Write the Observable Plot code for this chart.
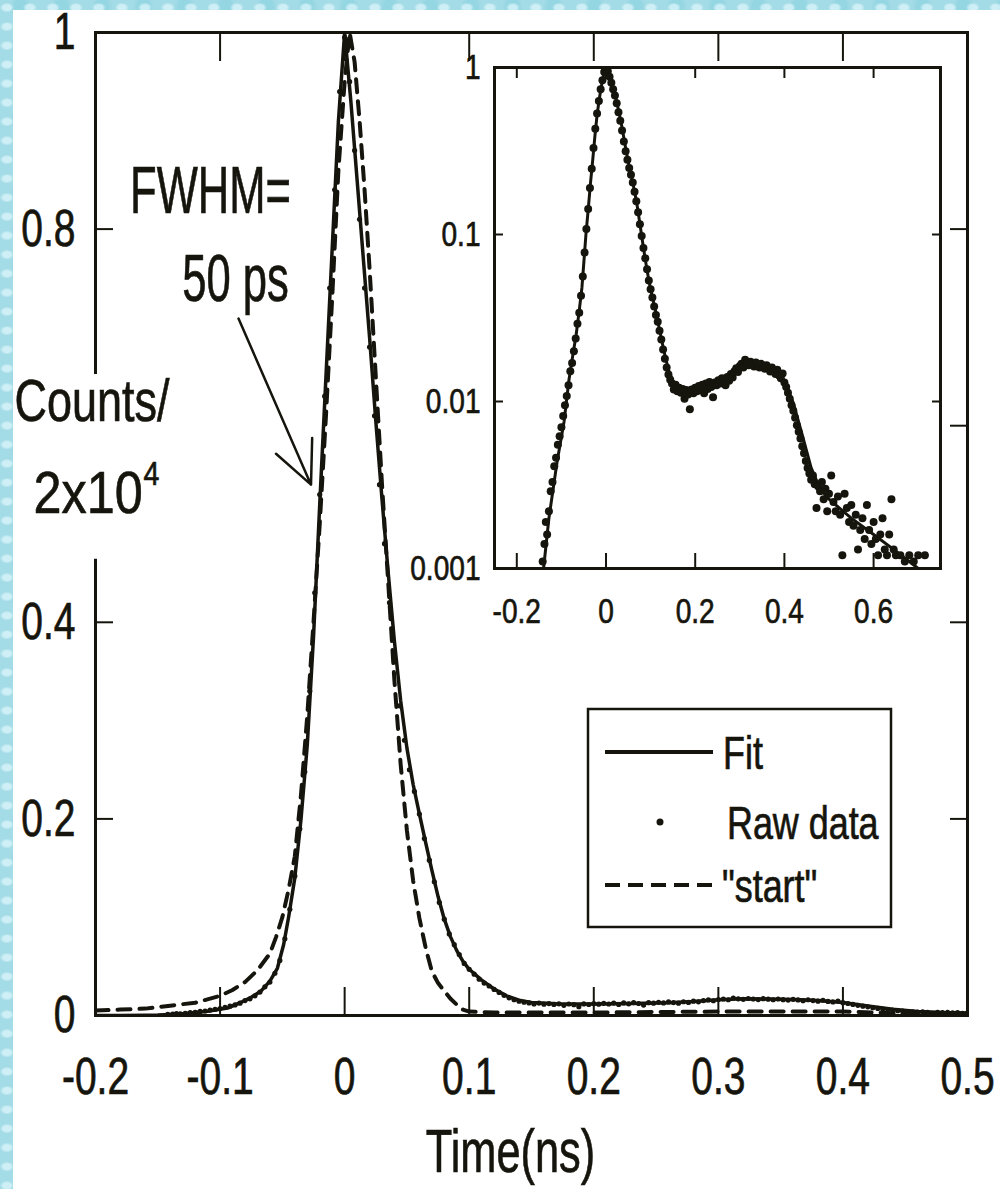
<!DOCTYPE html>
<html><head><meta charset="utf-8">
<script src="https://cdn.jsdelivr.net/npm/d3@7"></script>
<script src="https://cdn.jsdelivr.net/npm/@observablehq/plot@0.6"></script>
<style>
html,body{margin:0;padding:0;}
body{width:1000px;height:1189px;position:relative;overflow:hidden;
 background-color:#a3dbe6;
 background-image:
  radial-gradient(ellipse at 30% 40%, rgba(225,248,252,0.7) 0 4px, transparent 7px),
  radial-gradient(ellipse at 70% 70%, rgba(70,170,195,0.45) 0 5px, transparent 8px),
  radial-gradient(ellipse at 50% 20%, rgba(140,210,225,0.6) 0 6px, transparent 10px);
 background-size:23px 19px, 31px 27px, 41px 37px;}
#panel{position:absolute;left:13px;top:10px;width:987px;height:1179px;background:#fff;}
#main{position:absolute;left:0;top:0;}
#inset{position:absolute;left:400px;top:40px;}
#legend{position:absolute;left:587px;top:708px;}
svg text{stroke:#16150d;stroke-width:0.7px;}
</style></head><body>
<div id="panel"></div>
<div id="main"></div>
<div id="inset"></div>
<div id="legend"></div>
<script>
// ---------- data ----------
const fitT = [-0.20,-0.18,-0.16,-0.15,-0.14,-0.128,-0.11,-0.094,-0.083,-0.075,-0.067,-0.060,-0.054,-0.049,-0.045,-0.040,-0.035,-0.030,-0.025,-0.020,-0.015,-0.010,-0.005,0.000,0.005,0.010,0.015,0.020,0.025,0.030,0.035,0.040,0.045,0.050,0.055,0.060,0.065,0.070,0.075,0.080,0.085,0.090,0.095,0.100,0.110,0.120,0.130,0.140,0.150,0.170,0.200,0.230,0.260,0.280,0.300,0.320,0.340,0.360,0.380,0.400,0.420,0.440,0.460,0.480,0.500,0.550,0.600,0.650,0.700,0.750];
const fitV = [0.00002,0.00006,0.0002,0.0004,0.0010,0.0020,0.0043,0.0076,0.0135,0.0185,0.025,0.035,0.048,0.072,0.100,0.140,0.200,0.275,0.385,0.520,0.650,0.780,0.910,1.000,0.930,0.850,0.770,0.690,0.605,0.525,0.450,0.380,0.320,0.272,0.235,0.205,0.176,0.148,0.121,0.098,0.080,0.066,0.055,0.047,0.036,0.027,0.020,0.0155,0.0132,0.0120,0.0118,0.0122,0.0130,0.0142,0.0160,0.0170,0.0168,0.0162,0.0152,0.0133,0.0098,0.0063,0.0040,0.0030,0.0026,0.0020,0.00160,0.00127,0.00100,0.00079];

const startT = [-0.200,-0.180,-0.160,-0.140,-0.120,-0.100,-0.090,-0.080,-0.070,-0.060,-0.055,-0.050,-0.045,-0.040,-0.035,-0.030,-0.025,-0.020,-0.015,-0.010,-0.005,0.000,0.004,0.008,0.012,0.016,0.020,0.025,0.030,0.035,0.040,0.045,0.050,0.055,0.060,0.065,0.070,0.075,0.080,0.085,0.090,0.095,0.100,0.120,0.200,0.300,0.400,0.450,0.500];
const startV = [0.005,0.006,0.007,0.010,0.013,0.020,0.026,0.034,0.046,0.063,0.080,0.100,0.128,0.162,0.225,0.305,0.400,0.500,0.610,0.730,0.860,0.950,1.000,0.970,0.910,0.840,0.760,0.650,0.540,0.440,0.340,0.255,0.188,0.137,0.099,0.069,0.045,0.033,0.025,0.017,0.011,0.006,0.004,0.003,0.003,0.004,0.004,0.002,0.001];

const rawT = [-0.142,-0.138,-0.135,-0.132,-0.128,-0.124,-0.120,-0.116,-0.112,-0.108,-0.104,-0.100,-0.096,-0.092,-0.088,-0.084,-0.080,-0.076,-0.072,-0.068,-0.064,-0.060,-0.056,-0.052,-0.048,-0.044,-0.040,-0.036,-0.032,-0.028,-0.024,-0.020,-0.016,-0.012,-0.008,-0.004,0.000,0.004,0.008,0.012,0.016,0.020,0.024,0.028,0.032,0.036,0.040,0.044,0.048,0.052,0.056,0.060,0.064,0.068,0.072,0.076,0.080,0.084,0.088,0.092,0.096,0.100,0.104,0.108,0.112,0.116,0.120,0.124,0.128,0.132,0.136,0.140,0.144,0.148,0.152,0.156,0.160,0.164,0.168,0.172,0.176,0.180,0.184,0.188,0.192,0.196,0.200,0.204,0.208,0.212,0.216,0.220,0.224,0.228,0.232,0.236,0.240,0.244,0.248,0.252,0.256,0.260,0.264,0.268,0.272,0.276,0.280,0.284,0.288,0.292,0.296,0.300,0.304,0.308,0.312,0.316,0.320,0.324,0.328,0.332,0.336,0.340,0.344,0.348,0.352,0.356,0.360,0.364,0.368,0.372,0.376,0.380,0.384,0.388,0.392,0.396,0.400,0.404,0.408,0.412,0.416,0.420,0.424,0.428,0.432,0.436,0.440,0.444,0.448,0.452,0.456,0.460,0.464,0.468,0.472,0.476,0.480,0.484,0.488,0.492,0.496,0.500,0.505,0.510,0.515,0.520,0.525,0.530,0.535,0.540,0.545,0.550,0.555,0.560,0.565,0.570,0.575,0.580,0.585,0.590,0.595,0.600,0.605,0.610,0.615,0.620,0.625,0.630,0.635,0.640,0.645,0.650,0.660,0.670,0.680,0.690,0.700,0.715];
const rawV = [0.0011,0.0014,0.0019,0.0016,0.0022,0.0029,0.0033,0.0041,0.0046,0.0055,0.0062,0.0070,0.0082,0.0095,0.0108,0.0125,0.0152,0.0170,0.0200,0.0238,0.0292,0.0340,0.0430,0.0560,0.0780,0.1080,0.1420,0.1900,0.2480,0.3300,0.4300,0.5300,0.6300,0.7400,0.8400,0.9400,0.9950,0.9500,0.8800,0.8100,0.7400,0.6800,0.6100,0.5400,0.4800,0.4200,0.3600,0.3150,0.2800,0.2500,0.2280,0.2050,0.1800,0.1580,0.1360,0.1150,0.0980,0.0830,0.0720,0.0620,0.0530,0.0470,0.0420,0.0370,0.0330,0.0300,0.0265,0.0235,0.0205,0.0180,0.0160,0.0145,0.0135,0.0128,0.0118,0.0126,0.0115,0.0121,0.0113,0.0119,0.0104,0.0117,0.0110,0.0090,0.0118,0.0112,0.0121,0.0115,0.0124,0.0117,0.0126,0.0112,0.0128,0.0119,0.0131,0.0122,0.0106,0.0130,0.0125,0.0134,0.0128,0.0138,0.0131,0.0125,0.0140,0.0133,0.0146,0.0139,0.0152,0.0158,0.0150,0.0163,0.0168,0.0160,0.0178,0.0170,0.0165,0.0173,0.0168,0.0162,0.0171,0.0166,0.0160,0.0168,0.0161,0.0157,0.0165,0.0158,0.0151,0.0160,0.0152,0.0146,0.0155,0.0143,0.0138,0.0147,0.0130,0.0122,0.0113,0.0104,0.0095,0.0088,0.0080,0.0072,0.0066,0.0060,0.0054,0.0049,0.0044,0.0040,0.0037,0.0034,0.0036,0.0032,0.0023,0.0031,0.0029,0.0033,0.0026,0.0030,0.0022,0.0028,0.0036,0.0025,0.0022,0.0027,0.0021,0.0012,0.0028,0.0023,0.0019,0.0024,0.0018,0.0021,0.0013,0.0017,0.0020,0.0015,0.0024,0.0017,0.0014,0.0019,0.0015,0.0012,0.0016,0.0020,0.0013,0.0012,0.0016,0.0026,0.0013,0.0012,0.0012,0.0011,0.0012,0.0011,0.0012,0.0012];

const mainXTickLabels = [-0.2,-0.1,0,0.1,0.2,0.3,0.4,0.5];
const mainXTicks = [-0.1,0,0.1,0.2,0.3,0.4];
const mainYTickLabels = [0,0.2,0.4,0.8,1];
const mainYTicksLeft = [0.2,0.4,0.8];
const mainYTicksRight = [0.2,0.4,0.6,0.8];
const insetXTicks = [-0.2,0,0.2,0.4,0.6];
const insetYTickLabels = [0.001,0.01,0.1,1];
const insetYTicks = [0.01,0.1];
const legendLabels = ["Fit","Raw data","\"start\""];
const yTitle = ["Counts/","2x10","4"];
const xTitle = "Time(ns)";
const fwhmText = ["FWHM=","50 ps"];
const arrowPts = [{x1:-0.0852, y1:0.709, x2:-0.027, y2:0.54}];

// ---------- build ----------
const ink = "#16150d";
const font = "'Liberation Sans', Arial, Helvetica, sans-serif";
const fit = fitT.map((t,i)=>({t, v:fitV[i]}));
const start = startT.map((t,i)=>({t, v:startV[i]}));
const raw = rawT.map((t,i)=>({t, v:rawV[i]}));

// horizontal condensing of every text (the source figure is narrow-set)
const squeezeBy = {"FWHM=":0.66,"50 ps":0.66,"Counts/":0.75,"2x10":0.84,"4":0.84,"Time(ns)":0.70};
function squeezeAll(svg, dflt){
  svg.querySelectorAll("text").forEach(t=>{
    const s = squeezeBy[t.textContent] ?? dflt;
    const tr = t.getAttribute("transform") || "";
    const x = +(t.getAttribute("x") || 0);
    t.setAttribute("transform", `${tr} translate(${x},0) scale(${s},1) translate(${-x},0)`);
  });
}

const frameSegs = [
  {x1:-0.2,x2:0.5,y1:1,y2:1},
  {x1:-0.2,x2:0.5,y1:0,y2:0},
  {x1:0.5,x2:0.5,y1:0,y2:1},
  {x1:-0.2,x2:-0.2,y1:0,y2:0.463},
  {x1:-0.2,x2:-0.2,y1:0.654,y2:1}
];

const main = Plot.plot({
  width:1000, height:1189,
  marginLeft:95, marginRight:33, marginTop:32, marginBottom:174,
  x:{domain:[-0.2,0.5], axis:null},
  y:{domain:[0,1], axis:null},
  style:{background:"transparent", color:ink, fontFamily:font, overflow:"visible"},
  marks:[
    Plot.line(start,{x:"t",y:"v",stroke:ink,strokeWidth:4,strokeDasharray:"13,9",clip:true}),
    Plot.line(fit,{x:"t",y:"v",stroke:ink,strokeWidth:3.5,clip:true}),
    Plot.dot(raw.filter(d=>d.t<=0.5),{x:"t",y:"v",r:2.6,fill:ink,stroke:null,clip:true}),
    Plot.link(frameSegs,{x1:"x1",y1:"y1",x2:"x2",y2:"y2",stroke:ink,strokeWidth:3,strokeLinecap:"square"}),
    Plot.axisX(mainXTicks,{anchor:"bottom",tickSize:28,dy:-28,fill:"none",label:null,stroke:ink,strokeWidth:2}),
    Plot.axisX(mainXTicks,{anchor:"top",tickSize:28,dy:28,fill:"none",label:null,stroke:ink,strokeWidth:2}),
    Plot.axisY(mainYTicksLeft,{anchor:"left",tickSize:18,dx:18,fill:"none",label:null,stroke:ink,strokeWidth:2}),
    Plot.axisY(mainYTicksRight,{anchor:"right",tickSize:18,dx:-18,fill:"none",label:null,stroke:ink,strokeWidth:2}),
    Plot.axisX(mainXTickLabels,{anchor:"bottom",tickSize:0,tickPadding:42,fontSize:52,label:null,tickFormat:d=>String(d)}),
    Plot.axisY(mainYTickLabels,{anchor:"left",tickSize:0,tickPadding:20,fontSize:52,label:null,tickFormat:d=>String(d)}),
    Plot.text([xTitle],{frameAnchor:"bottom",dx:-21,dy:137,fontSize:62,textAnchor:"middle",lineAnchor:"middle",fill:ink}),
    Plot.text([yTitle[0]],{frameAnchor:"left",dx:-81,dy:-122,fontSize:60,textAnchor:"start",lineAnchor:"middle",fill:ink}),
    Plot.text([yTitle[1]],{frameAnchor:"left",dx:-62,dy:-30,fontSize:60,textAnchor:"start",lineAnchor:"middle",fill:ink}),
    Plot.text([yTitle[2]],{frameAnchor:"left",dx:48,dy:-50,fontSize:34,textAnchor:"start",lineAnchor:"middle",fill:ink}),
    Plot.text([fwhmText[0]],{frameAnchor:"top-left",dx:115,dy:159,fontSize:66,textAnchor:"middle",lineAnchor:"middle",fill:ink}),
    Plot.text([fwhmText[1]],{frameAnchor:"top-left",dx:140,dy:247,fontSize:66,textAnchor:"middle",lineAnchor:"middle",fill:ink}),
    Plot.arrow(arrowPts,{x1:"x1",y1:"y1",x2:"x2",y2:"y2",stroke:ink,strokeWidth:2.5,headLength:28,headAngle:50})
  ]
});
squeezeAll(main, 0.75);
document.getElementById("main").appendChild(main);

const inset = Plot.plot({
  width:550, height:600,
  marginLeft:94, marginRight:10, marginTop:27, marginBottom:72,
  x:{domain:[-0.25,0.75], axis:null},
  y:{type:"log", domain:[0.001,1], axis:null},
  style:{background:"transparent", color:ink, fontFamily:font, overflow:"visible"},
  marks:[
    Plot.frame({fill:"white", stroke:null}),
    Plot.line(fit,{x:"t",y:"v",stroke:ink,strokeWidth:3,clip:true}),
    Plot.dot(raw,{x:"t",y:"v",r:4,fill:ink,stroke:null,clip:true}),
    Plot.frame({stroke:ink,strokeWidth:3}),
    Plot.axisX(insetXTicks,{anchor:"bottom",tickSize:15,dy:-15,fill:"none",label:null,stroke:ink,strokeWidth:2}),
    Plot.axisX(insetXTicks,{anchor:"top",tickSize:10,dy:10,fill:"none",label:null,stroke:ink,strokeWidth:2}),
    Plot.axisY(insetYTicks,{anchor:"left",tickSize:9,dx:9,fill:"none",label:null,stroke:ink,strokeWidth:2}),
    Plot.axisY(insetYTicks,{anchor:"right",tickSize:9,dx:-9,fill:"none",label:null,stroke:ink,strokeWidth:2}),
    Plot.axisX(insetXTicks,{anchor:"bottom",tickSize:0,tickPadding:29,fontSize:36,label:null,tickFormat:d=>String(d)}),
    Plot.axisY(insetYTickLabels,{anchor:"left",tickSize:0,tickPadding:14,fontSize:36,label:null,tickFormat:d=>String(d)})
  ]
});
squeezeAll(inset, 0.78);
document.getElementById("inset").appendChild(inset);

// ---------- legend ----------
const lg = d3.select("#legend").append("svg").attr("width",306).attr("height",222)
  .style("font-family",font).style("overflow","visible");
lg.append("rect").attr("x",1).attr("y",1).attr("width",303).attr("height",218)
  .attr("fill","white").attr("stroke",ink).attr("stroke-width",2.5);
lg.append("line").attr("x1",18).attr("x2",126).attr("y1",44).attr("y2",44).attr("stroke",ink).attr("stroke-width",4);
lg.append("circle").attr("cx",73).attr("cy",114).attr("r",3.5).attr("fill",ink);
lg.append("line").attr("x1",18).attr("x2",128).attr("y1",177).attr("y2",177).attr("stroke",ink).attr("stroke-width",4).attr("stroke-dasharray","15,8");
const lpos = [[136,44],[140,114],[135,177]];
legendLabels.forEach((s,i)=>{
  lg.append("text").attr("transform",`translate(${lpos[i][0]},${lpos[i][1]}) scale(0.78,1)`)
    .attr("dy","0.36em").attr("font-size",46).attr("fill",ink).text(s);
});
</script>
</body></html>
